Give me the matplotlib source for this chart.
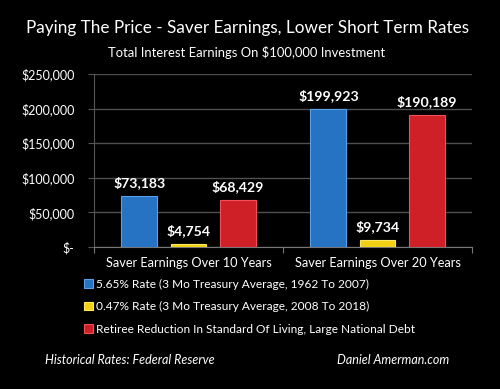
import matplotlib.pyplot as plt
import numpy as np

categories = ["Saver Earnings Over 10 Years", "Saver Earnings Over 20 Years"]
series_names = [
    "5.65% Rate (3 Mo Treasury Average, 1962 To 2007)",
    "0.47% Rate (3 Mo Treasury Average, 2008 To 2018)",
    "Retiree Reduction In Standard Of Living, Large National Debt",
]
high_rate = [73183, 199923]
low_rate = [4754, 9734]
reduction = [68429, 190189]
yticks = [0, 50000, 100000, 150000, 200000, 250000]
ytick_labels = ["$-", "$50,000", "$100,000", "$150,000", "$200,000", "$250,000"]

colors = ["#2673c4", "#f2d016", "#d02027"]
edges = ["#5aa0e6", "#ffe860", "#f05058"]

plt.rcParams["font.family"] = ["Lato", "DejaVu Sans"]

fig = plt.figure(figsize=(5, 3.89), dpi=100, facecolor="black")
ax = fig.add_axes([0.188, 0.365, 0.756, 0.4447], facecolor="black")

x = np.arange(len(categories))
offsets = [-0.26, 0, 0.26]
width = 0.19
for vals, off, c, ec, name in zip([high_rate, low_rate, reduction], offsets, colors, edges, series_names):
    bars = ax.bar(x + off, vals, width, color=c, edgecolor=ec, linewidth=0.8, label=name, zorder=3)
    for b, v in zip(bars, vals):
        ax.annotate(f"${v:,}", (b.get_x() + b.get_width() / 2, v), xytext=(0, 5),
                    textcoords="offset points", ha="center", va="bottom",
                    color="white", fontsize=10.2, fontweight="bold")

ax.set_xlim(-0.5, 1.5)
ax.set_ylim(0, 250000)
ax.set_yticks(yticks)
ax.set_yticklabels(ytick_labels)
ax.set_xticks([-0.5, 0.5, 1.5], minor=False)
ax.set_xticklabels([])
ax.set_xticks(x, minor=True)
ax.set_xticklabels(categories, minor=True)
ax.tick_params(axis="x", which="major", length=4, color="#777777")
ax.tick_params(axis="x", which="minor", length=0, pad=7, labelcolor="white", labelsize=9.2)
ax.tick_params(axis="y", length=4, color="#555555", labelcolor="white", labelsize=9, pad=10)
ax.grid(axis="y", color="#505050", linewidth=1, zorder=0)
for s in ["top", "right"]:
    ax.spines[s].set_visible(False)
ax.spines["left"].set_color("#555555")
ax.spines["bottom"].set_color("#777777")

leg = fig.legend(loc="upper left", bbox_to_anchor=(0.147, 0.311), frameon=False,
                 fontsize=8.6, labelcolor="white", handlelength=0.7, handleheight=0.7,
                 handletextpad=0.3, labelspacing=0.95)

fig.text(0.494, 0.928, "Paying The Price - Saver Earnings, Lower Short Term Rates",
         ha="center", va="center", color="white", fontsize=12.3)
fig.text(0.494, 0.866, "Total Interest Earnings On $100,000 Investment",
         ha="center", va="center", color="white", fontsize=9.4)
fig.text(0.09, 0.074, "Historical Rates: Federal Reserve", ha="left", va="center",
         color="white", fontsize=9, style="italic")
fig.text(0.898, 0.074, "Daniel Amerman.com", ha="right", va="center",
         color="white", fontsize=9, style="italic")

fig.savefig("out.png", dpi=100, facecolor="black")
